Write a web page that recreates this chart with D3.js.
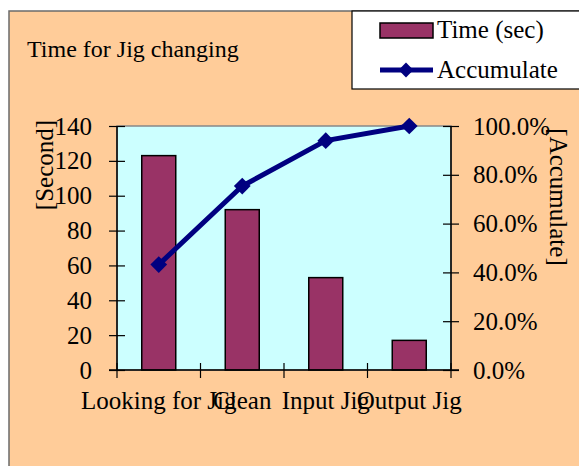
<!DOCTYPE html>
<html>
<head>
<meta charset="utf-8">
<script src="https://cdn.jsdelivr.net/npm/d3@7"></script>
<style>
  body { margin: 0; background: #fff; }
  text { font-family: "Liberation Serif", "Times New Roman", serif; fill: #000; }
</style>
</head>
<body>
<div id="chart"></div>
<script>
// data
const categories = ["Looking for Jig", "Clean", "Input Jig", "Output Jig"];
const times = [123, 92, 53, 17];
const accumulate = [0.432, 0.754, 0.94, 1.0];
const leftTicks = [0, 20, 40, 60, 80, 100, 120, 140];
const rightTicks = [0, 0.2, 0.4, 0.6, 0.8, 1.0];

const W = 579, H = 466;
const plot = {left: 117, right: 451, top: 126, bottom: 370};
const fs = "25px";

const svg = d3.select("#chart").append("svg")
  .attr("width", W).attr("height", H);

// chart area
svg.append("rect")
  .attr("x", 9).attr("y", 11).attr("width", 640).attr("height", 520)
  .style("fill", "#FFCC99").style("stroke", "#6b6b6b").style("stroke-width", 1.5);

// plot area
svg.append("rect")
  .attr("x", plot.left).attr("y", plot.top)
  .attr("width", plot.right - plot.left).attr("height", plot.bottom - plot.top)
  .style("fill", "#CCFFFF").style("stroke", "#888").style("stroke-width", 1.5);

const x = d3.scaleBand().domain(categories).range([plot.left, plot.right]);
const y = d3.scaleLinear().domain([0, 140]).range([plot.bottom, plot.top]);
const y2 = d3.scaleLinear().domain([0, 1]).range([plot.bottom, plot.top]);

// bars
svg.selectAll(".bar")
  .data(times)
  .join("rect")
  .attr("x", (d, i) => x(categories[i]) + x.bandwidth() / 2 - 17)
  .attr("y", d => y(d))
  .attr("width", 34)
  .attr("height", d => y(0) - y(d))
  .style("fill", "#993366").style("stroke", "#000").style("stroke-width", 1.5);

// left axis
const leftAxis = svg.append("g")
  .attr("transform", `translate(${plot.left},0)`)
  .call(d3.axisLeft(y).tickValues(leftTicks).tickSize(8).tickPadding(17));
leftAxis.selectAll(".tick line").attr("x2", -8).attr("x1", 8);

// right axis
const rightAxis = svg.append("g")
  .attr("transform", `translate(${plot.right},0)`)
  .call(d3.axisRight(y2).tickValues(rightTicks).tickFormat(d3.format(".1%")).tickSize(8).tickPadding(14));
rightAxis.selectAll(".tick line").attr("x1", -8).attr("x2", 8);

// bottom axis
const bottomAxis = svg.append("g")
  .attr("transform", `translate(0,${plot.bottom})`)
  .call(d3.axisBottom(x).tickSize(0).tickPadding(21));
bottomAxis.select(".domain").remove();
svg.append("line")
  .attr("x1", plot.left - 8).attr("x2", plot.right + 8)
  .attr("y1", plot.bottom).attr("y2", plot.bottom)
  .style("stroke", "#000").style("stroke-width", 1.5);
svg.append("g").selectAll("line")
  .data(d3.range(categories.length + 1))
  .join("line")
  .attr("x1", i => plot.left + i * x.step()).attr("x2", i => plot.left + i * x.step())
  .attr("y1", plot.bottom - 7).attr("y2", plot.bottom + 8)
  .style("stroke", "#000").style("stroke-width", 1.2);

[leftAxis, rightAxis, bottomAxis].forEach(a => {
  a.selectAll("text").style("font-size", fs).style("font-family", "Liberation Serif");
  a.selectAll(".tick line").style("stroke-width", 1.2);
  a.select(".domain").style("stroke-width", 1.5);
});
leftAxis.select(".domain").attr("d", `M0,${plot.top}V${plot.bottom}`);
rightAxis.select(".domain").attr("d", `M0,${plot.top}V${plot.bottom}`);

// accumulate line
const cx = i => x(categories[i]) + x.bandwidth() / 2;
svg.append("path")
  .datum(accumulate)
  .attr("d", d3.line().x((d, i) => cx(i)).y(d => y2(d)))
  .style("fill", "none").style("stroke", "#000080").style("stroke-width", 5);
svg.selectAll(".pt")
  .data(accumulate)
  .join("path")
  .attr("transform", (d, i) => `translate(${cx(i)},${y2(d)}) rotate(45)`)
  .attr("d", d3.symbol().type(d3.symbolSquare).size(140))
  .style("fill", "#000080");

// titles
svg.append("text").attr("x", 27).attr("y", 57).style("font-size", "24px")
  .text("Time for Jig changing");
svg.append("text")
  .attr("transform", "translate(53,165) rotate(-90)")
  .attr("text-anchor", "middle").style("font-size", fs)
  .text("[Second]");
svg.append("text")
  .attr("transform", "translate(550,197) rotate(90)")
  .attr("text-anchor", "middle").style("font-size", fs)
  .text("[Accumulate]");

// legend
const lg = svg.append("g");
lg.append("rect").attr("x", 352).attr("y", 11).attr("width", 260).attr("height", 78)
  .style("fill", "#fff").style("stroke", "#000").style("stroke-width", 1.2);
lg.append("rect").attr("x", 380).attr("y", 23).attr("width", 53).attr("height", 15)
  .style("fill", "#993366").style("stroke", "#000").style("stroke-width", 1.5);
lg.append("text").attr("x", 437).attr("y", 38).style("font-size", fs).text("Time (sec)");
lg.append("line").attr("x1", 380).attr("x2", 433).attr("y1", 70).attr("y2", 70)
  .style("stroke", "#000080").style("stroke-width", 5);
lg.append("path").attr("transform", "translate(406,70) rotate(45)")
  .attr("d", d3.symbol().type(d3.symbolSquare).size(110))
  .style("fill", "#000080");
lg.append("text").attr("x", 437).attr("y", 78).style("font-size", fs).text("Accumulate");
</script>
</body>
</html>
